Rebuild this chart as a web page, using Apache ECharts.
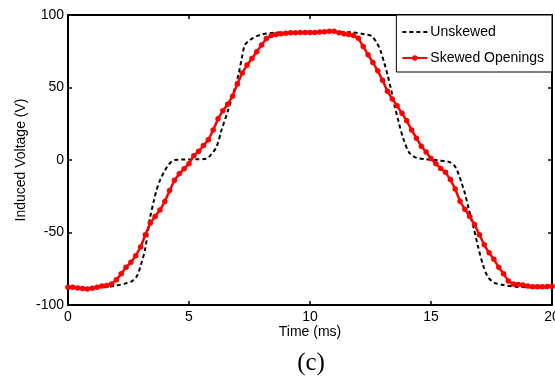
<!DOCTYPE html>
<html>
<head>
<meta charset="utf-8">
<script src="https://cdn.jsdelivr.net/npm/echarts@6/dist/echarts.min.js"></script>
<style>
html,body{margin:0;padding:0;background:#fff;}
#chart{width:555px;height:377px;}
</style>
</head>
<body>
<div id="chart"></div>
<script>
// Tick labels
const xTicks = [0, 5, 10, 15, 20];
const yTicks = [-100, -50, 0, 50, 100];

// Unskewed (black dashed) [time ms, voltage V]
const unskewedTime = [0, 0.5, 1.0, 1.6, 2.0, 2.4, 2.65, 2.85, 3.0, 3.18, 3.3, 3.4, 3.55, 3.66, 3.8, 3.94, 4.1, 4.25, 4.4, 4.8, 5.3, 5.7, 5.9, 6.14, 6.35, 6.62, 6.83, 7.04, 7.18, 7.31, 7.52, 7.93, 8.5, 9.0, 10.0, 11.0, 11.75, 12.3, 12.55, 12.75, 12.9, 13.05, 13.2, 13.35, 13.5, 13.65, 13.85, 14.1, 14.4, 14.8, 15.3, 15.7, 15.95, 16.1, 16.25, 16.4, 16.55, 16.75, 16.95, 17.15, 17.35, 17.6, 18.0, 18.5, 19.0, 20.0];
const unskewedVolt = [-88, -88.3, -88.2, -87.6, -86.6, -85, -83.5, -80, -73, -62, -50, -39, -28, -20.7, -14, -9.2, -4.5, -1.5, 0, 0.3, 0.5, 0.8, 3.5, 9.2, 21, 34.5, 46, 58.6, 70, 79.3, 82.8, 86.2, 87.8, 88, 88.2, 88.2, 88, 86.5, 85.5, 81, 76, 68, 59, 48.5, 37, 27, 15, 5, 1.5, 0.5, -0.3, -1.1, -3.5, -8, -15, -23, -33, -46, -60, -72.5, -80.5, -84.5, -86.2, -87.4, -87.8, -88];

// Skewed openings (red, sampled every 0.2 ms from 0 to 20 ms)
const skewedVolt = [
  -87.8, -87.8, -88.2, -88.6, -89, -88.5, -87.8, -86.9, -86.5, -85.6,
  -82.5, -78.5, -74, -70.5, -66, -60, -51.5, -43.5, -39, -34.5,
  -28.7, -21, -14, -9.5, -6, -2.5, 3, 6, 10, 14,
  20.7, 28.5, 34, 38.5, 44, 52.5, 60, 65.5, 70, 74.7,
  79.3, 83.8, 85.8, 86.5, 87, 87.5, 87.8, 87.8, 88, 88,
  88, 88, 88.2, 88.5, 88.8, 88.8, 87.8, 87, 86.5, 85.8,
  83.9, 78.2, 72.6, 67.2, 61.5, 55, 47.5, 42, 37.5, 32.2,
  27, 20.7, 15, 9.5, 5.5, 1, -2.5, -5.8, -8.5, -13.5,
  -20, -28.5, -34, -39, -44.5, -51.5, -58.5, -64, -68.5, -74,
  -78.5, -83.5, -85.5, -85.8, -86.2, -86.9, -87.4, -87.4, -87.4, -87.2,
  -87
];
const skewedStep = 0.2;

const seriesNames = ['Unskewed', 'Skewed Openings'];

const unskewedData = unskewedTime.map((t, i) => [t, unskewedVolt[i]]);
const skewedData = skewedVolt.map((v, i) => [+(i * skewedStep).toFixed(1), v]);

const FONT = 'Liberation Sans, Arial, Helvetica, sans-serif';
const axisLineStyle = { color: '#000', width: 2 };
const tickStyle = { show: true, inside: true, length: 4, lineStyle: { color: '#000', width: 1.5 } };

const chart = echarts.init(document.getElementById('chart'), null, { renderer: 'canvas' });
chart.setOption({
  animation: false,
  backgroundColor: '#fff',
  grid: { left: 68, right: 3, top: 15, bottom: 72, containLabel: false, outerBoundsMode: 'none' },
  legend: {
    orient: 'vertical',
    right: 3,
    top: 15,
    data: [
      { name: seriesNames[0], itemStyle: { opacity: 0 } },
      { name: seriesNames[1] }
    ],
    backgroundColor: '#fff',
    borderColor: '#000',
    borderWidth: 1,
    borderRadius: 0,
    padding: [10, 8, 7, 5],
    itemWidth: 25,
    itemHeight: 7,
    itemGap: 12,
    textStyle: { color: '#000', fontSize: 14, fontFamily: FONT, padding: [0, 0, 0, -2] }
  },
  xAxis: [
    {
      type: 'value', min: xTicks[0], max: xTicks[xTicks.length - 1], interval: 5,
      position: 'bottom',
      axisLine: { show: true, onZero: false, lineStyle: axisLineStyle },
      axisTick: tickStyle,
      axisLabel: { color: '#000', fontSize: 14, fontFamily: FONT, margin: 5 },
      splitLine: { show: false }
    },
    {
      type: 'value', min: xTicks[0], max: xTicks[xTicks.length - 1], interval: 5,
      position: 'top',
      axisLine: { show: true, onZero: false, lineStyle: axisLineStyle },
      axisTick: tickStyle,
      axisLabel: { show: false },
      splitLine: { show: false }
    }
  ],
  yAxis: [
    {
      type: 'value', min: yTicks[0], max: yTicks[yTicks.length - 1], interval: 50,
      position: 'left',
      axisLine: { show: true, onZero: false, lineStyle: axisLineStyle },
      axisTick: tickStyle,
      axisLabel: { color: '#000', fontSize: 14, fontFamily: FONT, margin: 4 },
      splitLine: { show: false }
    },
    {
      type: 'value', min: yTicks[0], max: yTicks[yTicks.length - 1], interval: 50,
      position: 'right',
      axisLine: { show: true, onZero: false, lineStyle: axisLineStyle },
      axisTick: tickStyle,
      axisLabel: { show: false },
      splitLine: { show: false }
    }
  ],
  series: [
    {
      name: seriesNames[0],
      type: 'line',
      data: unskewedData,
      smooth: 0.3,
      showSymbol: false,
      symbol: 'none',
      lineStyle: { color: '#000', width: 2, type: [4, 3] },
      itemStyle: { color: '#000' },
      z: 2
    },
    {
      name: seriesNames[1],
      type: 'line',
      data: skewedData,
      symbol: 'circle',
      symbolSize: 5.5,
      lineStyle: { color: '#ff0000', width: 2.5 },
      itemStyle: { color: '#ff0000' },
      z: 3
    }
  ],
  graphic: [
    {
      type: 'text',
      x: 21, y: 160, rotation: Math.PI / 2,
      style: { text: 'Induced Voltage (V)', fill: '#000', font: '14px ' + FONT, textAlign: 'center', textVerticalAlign: 'middle' }
    },
    {
      type: 'text',
      x: 310, y: 332,
      style: { text: 'Time (ms)', fill: '#000', font: '14px ' + FONT, textAlign: 'center', textVerticalAlign: 'middle' }
    },
    {
      type: 'text',
      x: 311, y: 363,
      style: { text: '(c)', fill: '#000', font: '25px Liberation Serif, Times New Roman, serif', textAlign: 'center', textVerticalAlign: 'middle' }
    }
  ]
});
</script>
</body>
</html>
